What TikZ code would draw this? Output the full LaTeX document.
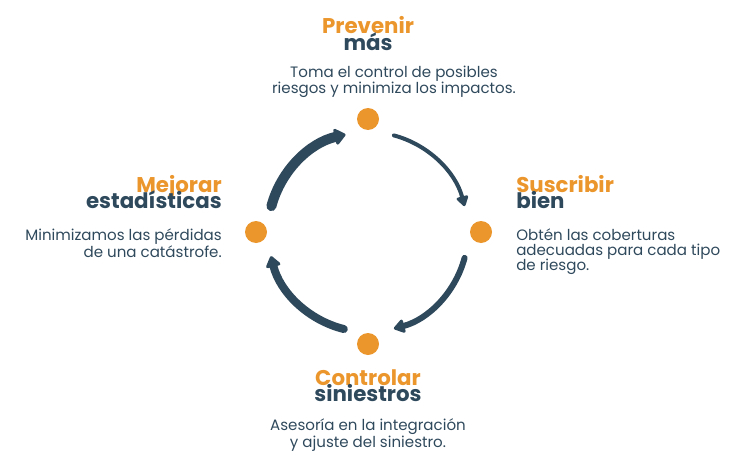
\documentclass[tikz,border=0pt]{standalone}
\usepackage{fontspec}
\setmainfont{Poppins}
\usetikzlibrary{arrows.meta,positioning}
\definecolor{stepcol}{RGB}{235,150,45}
\definecolor{inkcol}{RGB}{47,73,92}

\begin{document}
\begin{tikzpicture}[x=0.75pt,y=0.75pt,
  dot/.style={circle,fill=stepcol,minimum size=16.5pt,inner sep=0pt},
  headline/.style={font=\fontsize{16}{16}\selectfont\bfseries,text=stepcol,inner sep=0pt},
  subline/.style={font=\fontsize{16}{16}\selectfont\bfseries,text=inkcol,inner sep=0pt},
  blurb/.style={font=\fontsize{11.3}{11.6}\selectfont,text=inkcol,inner sep=0pt},
  cyc/.style={inkcol,line cap=round}]
\useasboundingbox (0,0) rectangle (738,465);
\coordinate (ctr) at (368,233);
% ---- the four steps ----
\node[dot] (prev) at (368,346) {};
\node[dot] (susc) at (481,233) {};
\node[dot] (ctrl) at (368,121) {};
\node[dot] (mejo) at (256,233) {};
% ---- arrows round the cycle ----
\draw[cyc,line width=7.5pt,-{Triangle[round,length=9pt,width=14pt]}]
  ([shift={(165:100)}]ctr) arc[start angle=165,end angle=103,radius=100];
\draw[cyc,line width=3pt,-{Triangle[round,length=8.5pt,width=10pt]}]
  ([shift={(75:100)}]ctr) arc[start angle=75,end angle=15,radius=100];
\draw[cyc,line width=4.5pt,-{Triangle[round,length=9pt,width=11.5pt]}]
  ([shift={(-15:100)}]ctr) arc[start angle=-15,end angle=-75,radius=100];
\draw[cyc,line width=6pt,-{Triangle[round,length=9pt,width=12.5pt]}]
  ([shift={(-104:100)}]ctr) arc[start angle=-104,end angle=-166,radius=100];
% ---- top: prevenir ----
\node[headline,anchor=base] (prevt) at (368,431) {Prevenir};
\node[subline,anchor=base] (prevs) at (368,414) {más};
\node[blurb,align=center,anchor=north] (prevb) at (394,399)
  {Toma el control de posibles\\riesgos y minimiza los impactos.};
% ---- right: suscribir ----
\node[headline,anchor=base west] (susct) at (516,273) {Suscribir};
\node[subline,anchor=base west] (suscs) at (516,257) {bien};
\node[blurb,align=left,anchor=north west] (suscb) at (516,237)
  {Obtén las coberturas\\adecuadas para cada tipo\\de riesgo.};
% ---- bottom: controlar ----
\node[headline,anchor=base] (ctrlt) at (368,80) {Controlar};
\node[subline,anchor=base] (ctrls) at (368,64) {siniestros};
\node[blurb,align=center,anchor=north] (ctrlb) at (368,47)
  {Asesoría en la integración\\y ajuste del siniestro.};
% ---- left: mejorar ----
\node[headline,anchor=base east] (mejot) at (222,273) {Mejorar};
\node[subline,anchor=base east] (mejos) at (222,257) {estadísticas};
\node[blurb,align=right,anchor=north east] (mejob) at (222,237)
  {Minimizamos las pérdidas\\de una catástrofe.};
\end{tikzpicture}
\end{document}
